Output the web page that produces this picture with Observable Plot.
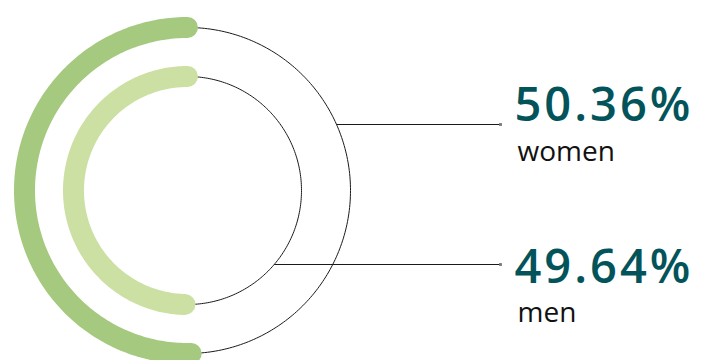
<!DOCTYPE html>
<html>
<head>
<meta charset="utf-8">
<script src="https://cdn.jsdelivr.net/npm/d3@7"></script>
<script src="https://cdn.jsdelivr.net/npm/@observablehq/plot@0.6"></script>
<style>
  html, body { margin: 0; padding: 0; background: #fff; }
  #chart svg { display: block; }
</style>
</head>
<body>
<div id="chart"></div>
<script>
// Share of population by sex
const groups = ["women", "men"];
const shares = [50.36, 49.64];
const ringColors = ["#a5c97e", "#cbe0a2"];

// ring layout (units = px relative to the ring centre, y pointing down)
const radii = [163, 114];
const leaderY = [-66, 74];
const valueY = [-70, 92];
const nameY = [-30, 131];
const labelX = 327;
const leaderEndX = 313;

// points along an arc starting at 12 o'clock and running counter-clockwise
function arcPoints(r, fraction, key) {
  const n = Math.max(2, Math.ceil(fraction * 360));
  return d3.range(n + 1).map(i => {
    const a = (i / n) * fraction * 2 * Math.PI;
    return { key, x: -r * Math.sin(a), y: -r * Math.cos(a) };
  });
}

const circles = groups.flatMap((g, i) => arcPoints(radii[i], 1, g));
const arcs = groups.flatMap((g, i) => arcPoints(radii[i], shares[i] / 100, g));

const table = groups.map((g, i) => ({
  group: g,
  share: shares[i],
  r: radii[i],
  ly: leaderY[i],
  lx: Math.sqrt(radii[i] ** 2 - leaderY[i] ** 2),
  vy: valueY[i],
  ny: nameY[i]
}));

const chart = Plot.plot({
  width: 704,
  height: 360,
  margin: 0,
  x: { domain: [-187, 517], range: [0, 704], axis: null },
  y: { domain: [-190, 170], range: [0, 360], axis: null },
  style: { background: "#fff" },
  marks: [
    Plot.line(circles, { x: "x", y: "y", z: "key", stroke: "#1a1a1a", strokeWidth: 1 }),
    Plot.line(arcs, {
      x: "x", y: "y", z: "key",
      stroke: d => d.key,
      strokeWidth: 21,
      strokeLinecap: "round"
    }),
    Plot.link(table, {
      x1: "lx", y1: "ly", x2: leaderEndX, y2: "ly",
      stroke: "#1a1a1a", strokeWidth: 1
    }),
    Plot.dot(table, {
      x: leaderEndX, y: "ly", symbol: "square", r: 1.6,
      fill: "#777", stroke: "none"
    }),
    Plot.text(table, {
      x: labelX, y: "vy",
      text: d => `${d.share.toFixed(2)}%`,
      textAnchor: "start", lineAnchor: "bottom",
      fontSize: 47, fontWeight: 600,
      fontFamily: "Open Sans",
      fill: "#03545a"
    }),
    Plot.text(table, {
      x: labelX + 3, y: "ny",
      text: "group",
      textAnchor: "start", lineAnchor: "bottom",
      fontSize: 28, fontWeight: 400,
      fontFamily: "Open Sans",
      fill: "#111"
    })
  ],
  color: { domain: groups, range: ringColors }
});

d3.select(chart).selectAll("text").filter(function () {
  return /%$/.test(this.textContent);
}).attr("letter-spacing", "3px");

document.getElementById("chart").append(chart);
</script>
</body>
</html>
